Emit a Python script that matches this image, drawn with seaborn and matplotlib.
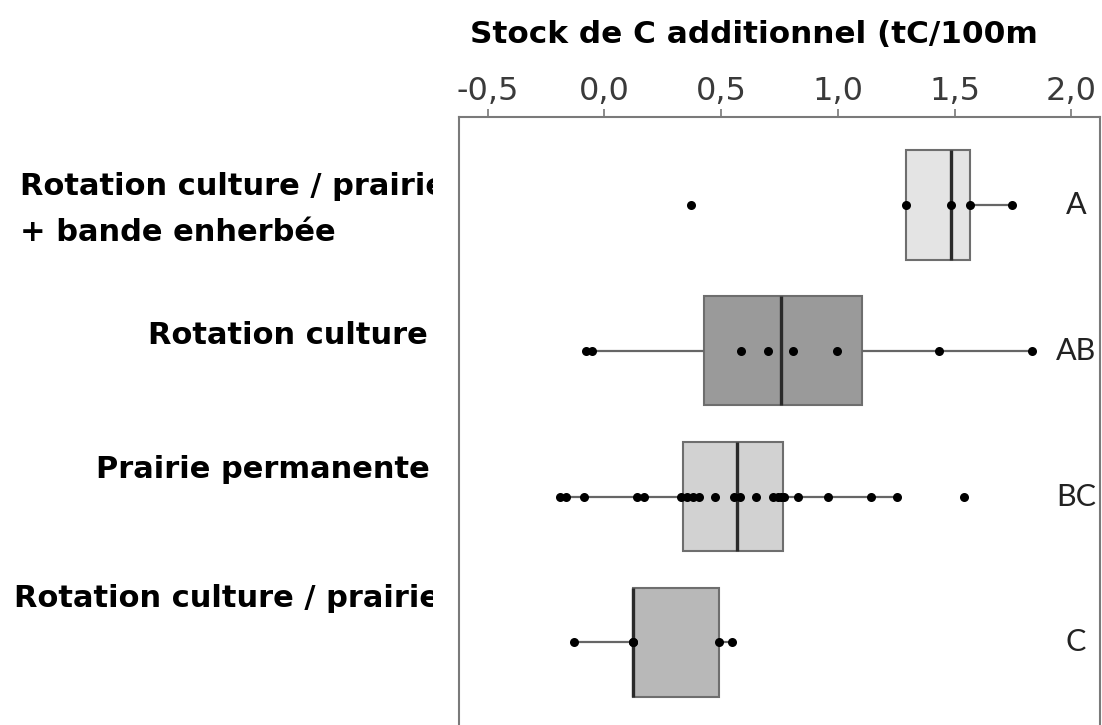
import numpy as np
import pandas as pd
import matplotlib
matplotlib.use("Agg")
import matplotlib.pyplot as plt
import seaborn as sns
from matplotlib.transforms import Bbox, TransformedBbox

# --- data -------------------------------------------------------------
systemes = [
    "Rotation culture / prairie + bande enherbée",
    "Rotation culture",
    "Prairie permanente",
    "Rotation culture / prairie",
]
stock_bande = [0.37, 1.29, 1.485, 1.567, 1.745]
stock_culture = [-0.077, -0.051, 0.586, 0.702, 0.810, 0.995, 1.434, 1.83]
stock_permanente = [-0.19, -0.165, -0.087, 0.138, 0.17, 0.33, 0.355, 0.38,
                    0.405, 0.474, 0.557, 0.583, 0.65, 0.722, 0.745, 0.755,
                    0.768, 0.83, 0.957, 1.142, 1.255, 1.54]
stock_rotation = [-0.128, 0.125, 0.125, 0.49, 0.545]
lettres = ["A", "AB", "BC", "C"]
x_ticks = [-0.5, 0.0, 0.5, 1.0, 1.5, 2.0]
x_tick_labels = ["-0,5", "0,0", "0,5", "1,0", "1,5", "2,0"]
titre = "Stock de C additionnel (tC/100m"

df = pd.DataFrame({
    "systeme": np.repeat(systemes, [len(stock_bande), len(stock_culture),
                                    len(stock_permanente), len(stock_rotation)]),
    "stock": stock_bande + stock_culture + stock_permanente + stock_rotation,
})

# --- style --------------------------------------------------------------
sns.set_style("white")
plt.rcParams["font.family"] = ["DejaVu Sans"]

W, H = 1102, 725
fig = plt.figure(figsize=(W / 100, H / 100), dpi=100)
fig.patch.set_facecolor("white")

def fx(px):
    return px / W

def fy(py):
    return 1 - py / H

ax_left, ax_right, ax_top, ax_bottom = 459.3, 1100.0, 117.3, 730.0
ax = fig.add_axes([fx(ax_left), fy(ax_bottom), fx(ax_right - ax_left),
                   (ax_bottom - ax_top) / H])

remplissage = dict(zip(systemes, ["#e4e4e4", "#9a9a9a", "#d2d2d2", "#b8b8b8"]))

sns.boxplot(data=df, x="stock", y="systeme", hue="systeme", order=systemes,
            hue_order=systemes, palette=remplissage, legend=False, orient="h",
            width=0.75, showfliers=False, showcaps=False, linewidth=1.5,
            linecolor="#6e6e6e",
            medianprops=dict(color="#2a2a2a", linewidth=2.4),
            whiskerprops=dict(color="#666666", linewidth=1.6),
            ax=ax)
sns.stripplot(data=df, x="stock", y="systeme", order=systemes, jitter=False,
              color="black", size=6.5, linewidth=0, ax=ax, zorder=3)

ax.set_xlim(-0.621, 2.123)
ax.set_ylim(3.6, -0.6)
ax.set_xlabel("")
ax.set_ylabel("")

# axis on top with comma decimals
ax.xaxis.tick_top()
ax.set_xticks(x_ticks)
ax.set_xticklabels(x_tick_labels, fontsize=23, color="#3a3a3a",
                   family="DejaVu Sans")
ax.tick_params(axis="x", direction="out", length=6, width=1.2,
               color="#777777", pad=1.5)
ax.set_yticks(range(len(systemes)))
ax.set_yticklabels([])
ax.tick_params(axis="y", direction="out", length=5, width=1.0, color="#999999")
for sp in ax.spines.values():
    sp.set_visible(True)
    sp.set_color("#7a7a7a")
    sp.set_linewidth(1.5)

# group letters
for i, lettre in enumerate(lettres):
    ax.text(2.02, i, lettre, ha="center", va="center", fontsize=22,
            family="Lato", color="#222222")

# title
fig.text(fx(470), fy(43.3), titre, ha="left", va="baseline", fontsize=22.4,
         fontweight="bold", family="DejaVu Sans", color="black")

# category labels on the left, clipped at the frame
clip = TransformedBbox(Bbox.from_extents(0, 0, fx(433), 1), fig.transFigure)
etiquettes = [
    ("Rotation culture / prairie", 20, 195, "left"),
    ("+ bande enherbée", 20, 240.7, "left"),
    ("Rotation culture", 428, 344, "right"),
    ("Prairie permanente", 430, 478, "right"),
    ("Rotation culture / prairie", 14, 607, "left"),
]
for texte, px, py, ha in etiquettes:
    t = fig.text(fx(px), fy(py), texte, ha=ha, va="baseline", fontsize=22,
                 fontweight="bold", family="DejaVu Sans", color="black")
    t.set_clip_box(clip)
    t.set_clip_on(True)

fig.savefig("out.png", dpi=100)
